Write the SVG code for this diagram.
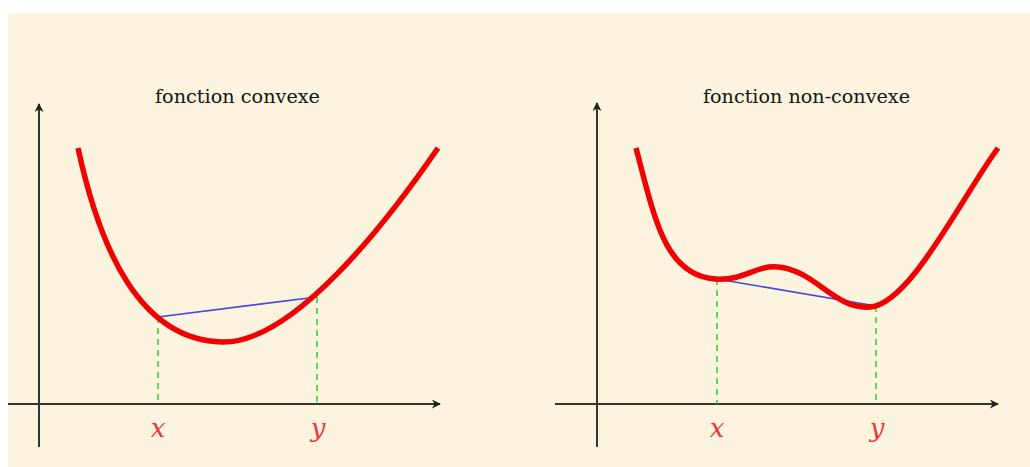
<svg xmlns="http://www.w3.org/2000/svg" width="1030" height="467" viewBox="0 0 1030 467">
<style>
.axis{stroke:#333;stroke-width:2;fill:none}
.curve{stroke:#F00000;stroke-width:5.5;fill:none;stroke-linecap:butt;stroke-linejoin:round}
.chord{stroke:#4646E0;stroke-width:1.6;fill:none}
.guide{stroke:#2ECC2E;stroke-width:1.5;stroke-dasharray:6,5;fill:none}
.title{font-family:"DejaVu Serif","Liberation Serif",serif;font-size:18px;fill:#141414}
.lab{font-family:"DejaVu Serif","Liberation Serif",serif;font-style:italic;font-size:26px;fill:#E83838;text-anchor:middle}
</style>
<defs>
<marker id="ah" viewBox="0 0 10 10" refX="9" refY="5" markerWidth="9" markerHeight="9" markerUnits="userSpaceOnUse" orient="auto">
<path d="M0,0 L10,5 L0,10 L3,5 Z" fill="#222"/>
</marker>
</defs>
<rect x="0" y="0" width="1030" height="467" fill="#FFFFFF"/>
<rect x="8" y="13" width="1022" height="454" fill="#FDF4DF"/>
<g id="connectors">
<line class="axis" x1="39" y1="447" x2="39" y2="104" marker-end="url(#ah)"/>
<line class="axis" x1="8" y1="404" x2="440" y2="404" marker-end="url(#ah)"/>
<line class="axis" x1="597" y1="447" x2="597" y2="103" marker-end="url(#ah)"/>
<line class="axis" x1="555" y1="404" x2="998" y2="404" marker-end="url(#ah)"/>
<line class="guide" x1="158" y1="317" x2="158" y2="404"/>
<line class="guide" x1="317" y1="297" x2="317" y2="404"/>
<line class="guide" x1="717" y1="279" x2="717" y2="404"/>
<line class="guide" x1="876" y1="306" x2="876" y2="404"/>
<line class="chord" x1="158" y1="317" x2="317" y2="297"/>
<line class="chord" x1="717" y1="279" x2="876" y2="306"/>
</g>
<g id="convex">
<path class="curve" d="M78,148 C100,250 140,340 222,342 C292,344 385,225 438,148"/>
<text class="title" x="155" y="103" textLength="165" lengthAdjust="spacingAndGlyphs">fonction convexe</text>
<text class="lab" x="158" y="437">x</text>
<text class="lab" x="318" y="437">y</text>
</g>
<g id="nonconvex">
<path class="curve" d="M636,148 C655,220 665,275 715,279 C745,281 755,265 778,267 C815,270 835,310 870,307 C910,304 960,200 998,148"/>
<text class="title" x="703" y="103" textLength="207" lengthAdjust="spacingAndGlyphs">fonction non-convexe</text>
<text class="lab" x="717" y="437">x</text>
<text class="lab" x="877" y="437">y</text>
</g>
</svg>
